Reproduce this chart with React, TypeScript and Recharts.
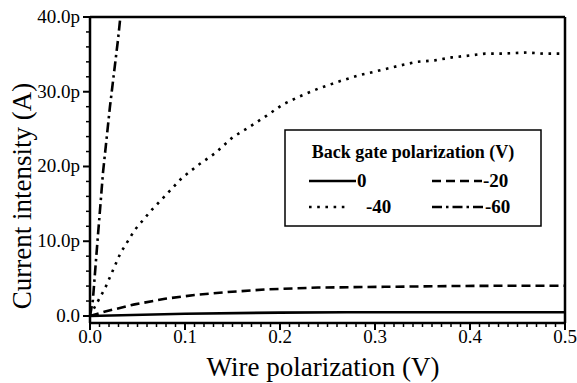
import { LineChart, Line, XAxis, YAxis, ReferenceLine, Legend, Label } from "recharts"

const FONT = '"Liberation Serif", "Times New Roman", serif'

// Back gate 0 V
const wire0 = [0, 0.1, 0.2, 0.27, 0.35, 0.5]
const current0 = [0, 0.3, 0.45, 0.5, 0.5, 0.5]

// Back gate -20 V
const wire20 = [0, 0.016, 0.047, 0.079, 0.11, 0.145, 0.184, 0.24, 0.31, 0.38, 0.44, 0.5]
const current20 = [0, 0.6, 1.55, 2.3, 2.8, 3.2, 3.55, 3.8, 3.9, 4.0, 4.05, 4.05]

// Back gate -40 V
const wire40 = [0, 0.005, 0.016, 0.032, 0.047, 0.065, 0.08, 0.097, 0.114, 0.132, 0.15, 0.168, 0.186, 0.203, 0.221, 0.24, 0.265, 0.283, 0.3, 0.326, 0.344, 0.363, 0.381, 0.4, 0.416, 0.434, 0.46, 0.477, 0.5]
const current40 = [0, 1.2, 3.75, 8.4, 11.5, 14.2, 16.2, 18.5, 20.2, 21.8, 23.9, 25.3, 26.8, 28.3, 29.4, 30.4, 31.5, 32.2, 32.7, 33.5, 34.0, 34.2, 34.6, 34.85, 35.1, 35.1, 35.25, 35.1, 35.1]

// Back gate -60 V (runs off the top)
const wire60 = [0, 0.003, 0.008, 0.0137, 0.021, 0.0295, 0.034]
const current60 = [0, 2.1, 10.2, 19.2, 28, 37, 42.5]

const majorX = [0, 0.1, 0.2, 0.3, 0.4, 0.5]
const majorY = [0, 10, 20, 30, 40]
const minorX = Array.from({ length: 51 }, (_, i) => i / 100)
const minorY = Array.from({ length: 21 }, (_, i) => i * 2)

const toPoints = (xs: number[], ys: number[]) => xs.map((x, i) => ({ x, y: ys[i] }))

const series = [
  { name: "0", data: toPoints(wire0, current0), dash: undefined },
  { name: "-20", data: toPoints(wire20, current20), dash: "9 5" },
  { name: "-40", data: toPoints(wire40, current40), dash: "2.6 5.6" },
  { name: "-60", data: toPoints(wire60, current60), dash: "10 4 2.5 4" },
]

const isMajor = (v: number, list: number[]) => list.some((m) => Math.abs(m - v) < 1e-6)

function XTick(props: any) {
  const { x, y, payload } = props
  const v = payload.value as number
  const major = isMajor(v, majorX)
  return (
    <g>
      <line x1={x} x2={x} y1={y} y2={y + (major ? 7 : 4)} stroke="#000" strokeWidth={major ? 2 : 1.5} />
      {major && (
        <text x={x} y={y + 20} textAnchor="middle" fontSize={19} fontFamily={FONT} fill="#000">
          {v.toFixed(1)}
        </text>
      )}
    </g>
  )
}

function YTick(props: any) {
  const { x, y, payload } = props
  const v = payload.value as number
  const major = isMajor(v, majorY)
  return (
    <g>
      <line x1={x - (major ? 7 : 4)} x2={x} y1={y} y2={y} stroke="#000" strokeWidth={major ? 2 : 1.5} />
      {major && (
        <text x={x - 10} y={y + 6} textAnchor="end" fontSize={19} fontFamily={FONT} fill="#000">
          {v === 0 ? "0.0" : `${v.toFixed(1)}p`}
        </text>
      )}
    </g>
  )
}

function LegendBox() {
  const sample = (x1: number, x2: number, y: number, dash?: string) => (
    <line x1={x1} x2={x2} y1={y} y2={y} stroke="#000" strokeWidth={2.5} strokeDasharray={dash} />
  )
  const label = (x: number, y: number, t: string) => (
    <text x={x} y={y + 6} fontSize={19} fontWeight="bold" fontFamily={FONT} fill="#000">
      {t}
    </text>
  )
  return (
    <svg width={258} height={98} style={{ display: "block" }}>
      <rect x={1} y={1} width={256} height={96} fill="#fff" stroke="#000" strokeWidth={1.5} />
      <text x={129} y={29} textAnchor="middle" fontSize={18} fontWeight="bold" fontFamily={FONT} fill="#000">
        Back gate polarization (V)
      </text>
      {sample(25, 72, 52, series[0].dash)}
      {label(73, 52, series[0].name)}
      {sample(148, 198, 52, series[1].dash)}
      {label(199, 52, series[1].name)}
      {sample(25, 66, 78, series[2].dash)}
      {label(82, 78, series[2].name)}
      {sample(148, 200, 78, series[3].dash)}
      {label(201, 78, series[3].name)}
    </svg>
  )
}

export default function App() {
  return (
    <div style={{ position: "absolute", left: 0, top: 0, background: "#fff" }}>
      <LineChart width={577} height={383} margin={{ top: 17, right: 12, left: 0, bottom: 0 }}>
        <XAxis
          type="number"
          dataKey="x"
          domain={[0, 0.5]}
          ticks={minorX}
          interval={0}
          tick={<XTick />}
          tickLine={false}
          tickSize={0}
          tickMargin={0}
          height={60}
          axisLine={{ stroke: "#000", strokeWidth: 2.5 }}
        >
          <Label
            content={() => (
              <text x={323} y={376} textAnchor="middle" fontSize={27} fontFamily={FONT} fill="#000">
                Wire polarization (V)
              </text>
            )}
          />
        </XAxis>
        <YAxis
          type="number"
          domain={[-0.94, 40]}
          allowDataOverflow
          ticks={minorY}
          interval={0}
          tick={<YTick />}
          tickLine={false}
          tickSize={0}
          tickMargin={0}
          width={90}
          axisLine={{ stroke: "#000", strokeWidth: 2.5 }}
        >
          <Label
            content={() => (
              <text
                x={31}
                y={196}
                transform="rotate(-90 31 196)"
                textAnchor="middle"
                fontSize={27}
                fontFamily={FONT}
                fill="#000"
              >
                Current intensity (A)
              </text>
            )}
          />
        </YAxis>
        <ReferenceLine y={40} stroke="#000" strokeWidth={2.5} ifOverflow="extendDomain" />
        <ReferenceLine x={0.5} stroke="#000" strokeWidth={2.5} />
        {series.map((s) => (
          <Line
            key={s.name}
            data={s.data}
            dataKey="y"
            name={s.name}
            type="linear"
            stroke="#000"
            strokeWidth={2.6}
            strokeDasharray={s.dash}
            dot={false}
            activeDot={false}
            isAnimationActive={false}
          />
        ))}
        <Legend
          layout="vertical"
          align="center"
          verticalAlign="middle"
          content={() => <LegendBox />}
          wrapperStyle={{ position: "absolute", left: 284, top: 129, width: 258, height: 98 }}
        />
      </LineChart>
    </div>
  )
}
